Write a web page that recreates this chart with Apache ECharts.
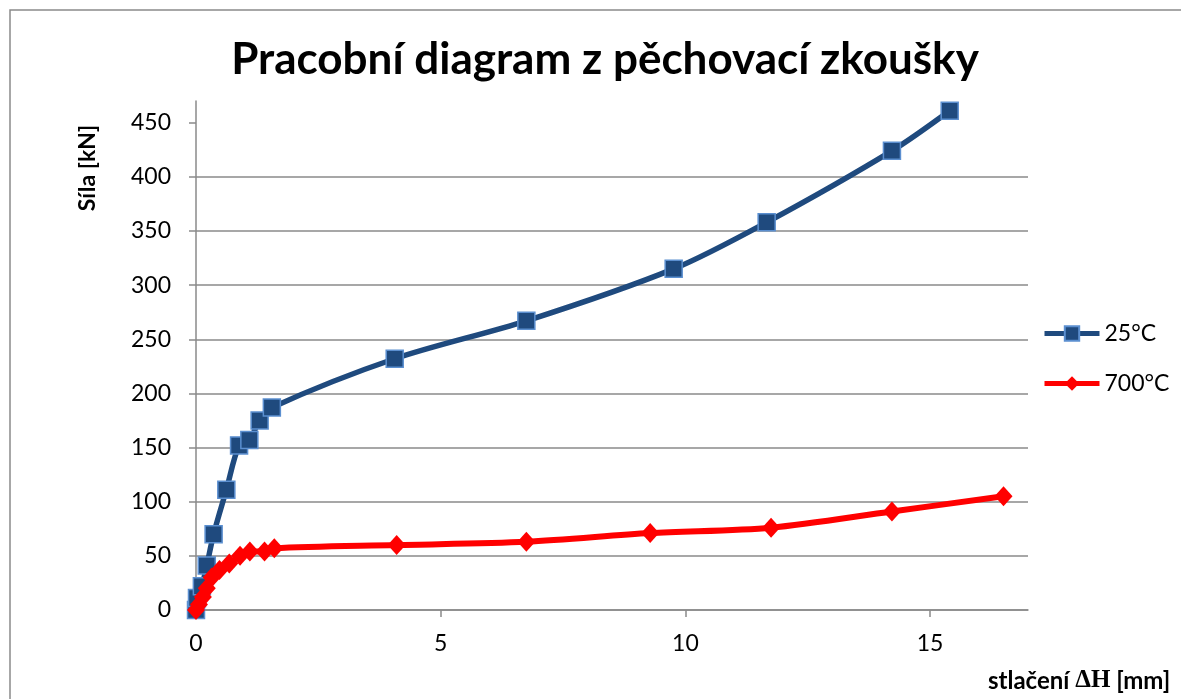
<!DOCTYPE html>
<html>
<head>
<meta charset="utf-8">
<script src="https://cdn.jsdelivr.net/npm/echarts@6/dist/echarts.min.js"></script>
<style>
  html, body { margin: 0; padding: 0; background: #fff; }
  #chart { width: 1181px; height: 699px; }
</style>
</head>
<body>
<div id="chart"></div>
<script>
// stlačení ΔH [mm] / síla [kN]
const series25 = [
  [0, 0], [0.02, 11], [0.12, 22], [0.22, 41], [0.36, 70], [0.62, 111],
  [0.88, 152], [1.09, 157], [1.3, 175], [1.55, 187], [4.06, 232],
  [6.75, 267], [9.76, 315], [11.66, 358], [14.22, 424], [15.4, 461]
];
const series700 = [
  [0, 0], [0.06, 5], [0.14, 12], [0.22, 20], [0.32, 30], [0.48, 37],
  [0.68, 43], [0.9, 50], [1.1, 54], [1.4, 54], [1.6, 57], [4.1, 60],
  [6.75, 63], [9.28, 71], [11.75, 76], [14.22, 91], [16.5, 105]
];
const xTicks = [0, 5, 10, 15];
const yTicks = [0, 50, 100, 150, 200, 250, 300, 350, 400, 450];

const chart = echarts.init(document.getElementById('chart'));
const font = 'Lato, "Open Sans", sans-serif';
const gridColor = '#8a8a8a';

const option = {
  backgroundColor: '#fff',
  animation: false,
  title: {
    text: 'Pracobní diagram z pěchovací zkoušky',
    left: 600,
    top: 33,
    textAlign: 'center',
    textStyle: { fontFamily: font, fontWeight: 'bold', fontSize: 44, color: '#000' }
  },
  grid: { left: 196, right: 153, top: 101, bottom: 89 },
  legend: {
    orient: 'vertical',
    left: 1042,
    top: 322,
    padding: 0,
    itemWidth: 55,
    itemHeight: 18,
    itemGap: 27,
    lineStyle: { width: 5 },
    textStyle: { fontFamily: font, fontSize: 23, color: '#000' },
    data: ['25°C', '700°C']
  },
  xAxis: {
    type: 'value',
    min: 0,
    max: 17,
    interval: 5,
    axisLine: { lineStyle: { color: gridColor, width: 1.5 } },
    axisTick: { show: true, length: 7, customValues: xTicks, lineStyle: { color: gridColor, width: 1.5 } },
    axisLabel: { customValues: xTicks, margin: 22, fontFamily: font, fontSize: 23, color: '#000' },
    splitLine: { show: false }
  },
  yAxis: {
    type: 'value',
    min: 0,
    max: 470,
    interval: 50,
    axisLine: { show: true, lineStyle: { color: gridColor, width: 1.5 } },
    axisTick: { show: true, length: 7, customValues: yTicks, lineStyle: { color: gridColor, width: 1.5 } },
    axisLabel: { customValues: yTicks, margin: 25, fontFamily: font, fontSize: 23, color: '#000' },
    splitLine: { showMaxLine: false, lineStyle: { color: gridColor, width: 1.5 } }
  },
  graphic: [
    {
      type: 'rect',
      shape: { x: 10, y: 10, width: 1400, height: 900 },
      style: { fill: 'none', stroke: '#8a8a8a', lineWidth: 1.5 },
      silent: true
    },
    {
      type: 'text',
      x: 88,
      y: 168,
      rotation: Math.PI / 2,
      style: {
        text: 'Síla [kN]',
        align: 'center',
        verticalAlign: 'middle',
        font: 'bold 23px ' + font,
        fill: '#000'
      }
    },
    {
      type: 'text',
      x: 988,
      y: 681,
      style: {
        text: '{a|stlačení }{d|ΔH}{a| [mm]}',
        align: 'left',
        verticalAlign: 'middle',
        fill: '#000',
        rich: {
          a: { fontFamily: font, fontWeight: 'bold', fontSize: 24, fill: '#000' },
          d: { fontFamily: '"Liberation Serif", "DejaVu Serif", serif', fontWeight: 'bold', fontSize: 25, fill: '#000' }
        }
      }
    }
  ],
  series: [
    {
      name: '25°C',
      type: 'line',
      data: series25,
      smooth: 0.3,
      symbol: 'rect',
      symbolSize: 17,
      lineStyle: { color: '#1f4a7e', width: 5.5 },
      itemStyle: { color: '#1f4a7e', borderColor: '#5b8fd0', borderWidth: 1.5 }
    },
    {
      name: '700°C',
      type: 'line',
      data: series700,
      smooth: 0.3,
      symbol: 'diamond',
      symbolSize: [18, 20],
      lineStyle: { color: '#ff0000', width: 6 },
      itemStyle: { color: '#ff0000' }
    }
  ]
};

chart.setOption(option);
</script>
</body>
</html>
